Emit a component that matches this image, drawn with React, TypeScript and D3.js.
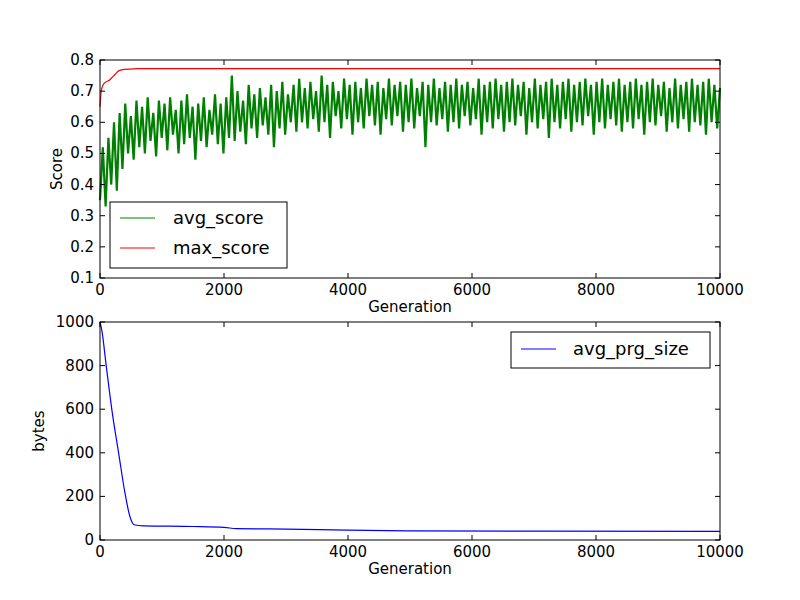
import React from "react";
import * as d3 from "d3";

const avgScore: number[] = [
0.35,0.52,0.33,0.55,0.40,0.60,0.38,0.63,0.45,0.66,0.50,0.62,0.48,0.67,
0.52,0.65,0.50,0.68,0.54,0.63,0.49,0.67,0.55,0.66,0.51,0.68,0.56,0.64,0.50,0.67,
0.53,0.69,0.55,0.65,0.48,0.66,0.54,0.68,0.52,0.64,0.56,0.69,0.53,0.66,0.50,0.68,
0.55,0.75,0.54,0.70,0.57,0.67,0.53,0.72,0.58,0.69,0.55,0.71,0.59,0.68,0.56,0.72,
0.52,0.70,0.58,0.73,0.56,0.69,0.60,0.72,0.57,0.74,0.60,0.71,0.58,0.73,0.61,0.70,
0.57,0.75,0.60,0.72,0.55,0.73,0.62,0.70,0.58,0.74,0.61,0.72,0.56,0.73,0.60,0.71,
0.58,0.74,0.62,0.72,0.59,0.73,0.56,0.71,0.61,0.74,0.59,0.72,0.62,0.73,0.57,0.72,
0.60,0.74,0.58,0.71,0.62,0.73,0.52,0.72,0.60,0.74,0.59,0.71,0.61,0.73,0.57,0.72,
0.60,0.74,0.58,0.72,0.62,0.73,0.59,0.71,0.61,0.74,0.56,0.72,0.60,0.73,0.58,0.74,
0.61,0.72,0.57,0.73,0.60,0.74,0.59,0.72,0.62,0.73,0.56,0.71,0.60,0.74,0.58,0.72,
0.61,0.73,0.55,0.74,0.60,0.72,0.58,0.73,0.61,0.74,0.57,0.72,0.60,0.73,0.59,0.74,
0.62,0.72,0.56,0.73,0.60,0.74,0.58,0.72,0.61,0.73,0.59,0.74,0.57,0.72,0.60,0.73,
0.58,0.74,0.61,0.72,0.56,0.73,0.60,0.74,0.59,0.72,0.62,0.73,0.57,0.71,0.60,0.74,
0.58,0.72,0.61,0.73,0.57,0.74,0.60,0.72,0.59,0.73,0.56,0.74,0.60,0.72,0.58,0.71
];
const maxGen = [0, 20, 50, 100, 150, 200, 250, 300, 400, 500, 600, 10000];
const maxScore = [0.65, 0.70, 0.72, 0.73, 0.735, 0.745, 0.755, 0.765, 0.77, 0.771, 0.772, 0.772];
const sizeGen = [0, 30, 100, 200, 300, 400, 480, 550, 700, 1500, 2000, 2200, 3000, 4000, 5000, 10000];
const sizeVal = [1000, 960, 800, 580, 400, 220, 110, 70, 65, 62, 58, 52, 50, 45, 42, 40];
const xTicks = [0, 2000, 4000, 6000, 8000, 10000];
const yTicksTop = [0.1, 0.2, 0.3, 0.4, 0.5, 0.6, 0.7, 0.8];
const yTicksBot = [0, 200, 400, 600, 800, 1000];

const L = 100, R = 720;
const font = "DejaVu Sans";

function Axes({ top, bottom, y, yTicks, fmt, ylabel }: any) {
  const x = d3.scaleLinear().domain([0, 10000]).range([L, R]);
  return (
    <g fontFamily={font} fontSize={15}>
      {xTicks.map(t => (
        <g key={"x" + t}>
          <line x1={x(t)} x2={x(t)} y1={bottom} y2={bottom - 5} stroke="#000" />
          <line x1={x(t)} x2={x(t)} y1={top} y2={top + 5} stroke="#000" />
          <text x={x(t)} y={bottom + 17} textAnchor="middle">{t}</text>
        </g>
      ))}
      {yTicks.map((t: number) => (
        <g key={"y" + t}>
          <line x1={L} x2={L + 5} y1={y(t)} y2={y(t)} stroke="#000" />
          <line x1={R} x2={R - 5} y1={y(t)} y2={y(t)} stroke="#000" />
          <text x={L - 6} y={y(t) + 5} textAnchor="end">{fmt(t)}</text>
        </g>
      ))}
      <rect x={L} y={top} width={R - L} height={bottom - top} fill="none" stroke="#000" />
      <text x={(L + R) / 2} y={bottom + 34} textAnchor="middle">Generation</text>
      <text transform={`translate(${ylabel},${(top + bottom) / 2}) rotate(-90)`} textAnchor="middle">
        {ylabel === 62 ? "Score" : "bytes"}
      </text>
    </g>
  );
}

export default function App() {
  const x = d3.scaleLinear().domain([0, 10000]).range([L, R]);
  const y1 = d3.scaleLinear().domain([0.1, 0.8]).range([278, 60]);
  const y2 = d3.scaleLinear().domain([0, 1000]).range([540, 322]);
  const step = 10000 / (avgScore.length - 1);
  const avgLine = d3.line<number>().x((_, i) => x(i * step)).y(d => y1(d))(avgScore)!;
  const maxLine = d3.line<number>().x((_, i) => x(maxGen[i])).y(d => y1(d)).curve(d3.curveMonotoneX)(maxScore)!;
  const sizeLine = d3.line<number>().x((_, i) => x(sizeGen[i])).y(d => y2(d)).curve(d3.curveMonotoneX)(sizeVal)!;
  return (
    <svg width={800} height={600} style={{ position: "absolute", left: 0, top: 0 }}>
      <rect width={800} height={600} fill="#fff" />
      <path d={avgLine} fill="none" stroke="#008000" strokeWidth={2.2} />
      <path d={maxLine} fill="none" stroke="#ff0000" strokeWidth={1.2} />
      <path d={sizeLine} fill="none" stroke="#0000ff" strokeWidth={1.2} />
      <Axes top={60} bottom={278} y={y1} yTicks={yTicksTop} fmt={(t: number) => t.toFixed(1)} ylabel={62} />
      <Axes top={322} bottom={540} y={y2} yTicks={yTicksBot} fmt={(t: number) => String(t)} ylabel={44} />
      <g fontFamily={font} fontSize={18}>
        <rect x={110} y={202} width={177} height={66} fill="#fff" stroke="#000" />
        <line x1={120} x2={155} y1={218} y2={218} stroke="#008000" />
        <text x={173} y={224}>avg_score</text>
        <line x1={120} x2={155} y1={248} y2={248} stroke="#ff0000" />
        <text x={173} y={254}>max_score</text>
        <rect x={511} y={332} width={199} height={36} fill="#fff" stroke="#000" />
        <line x1={521} x2={556} y1={349} y2={349} stroke="#0000ff" />
        <text x={573} y={355}>avg_prg_size</text>
      </g>
    </svg>
  );
}
